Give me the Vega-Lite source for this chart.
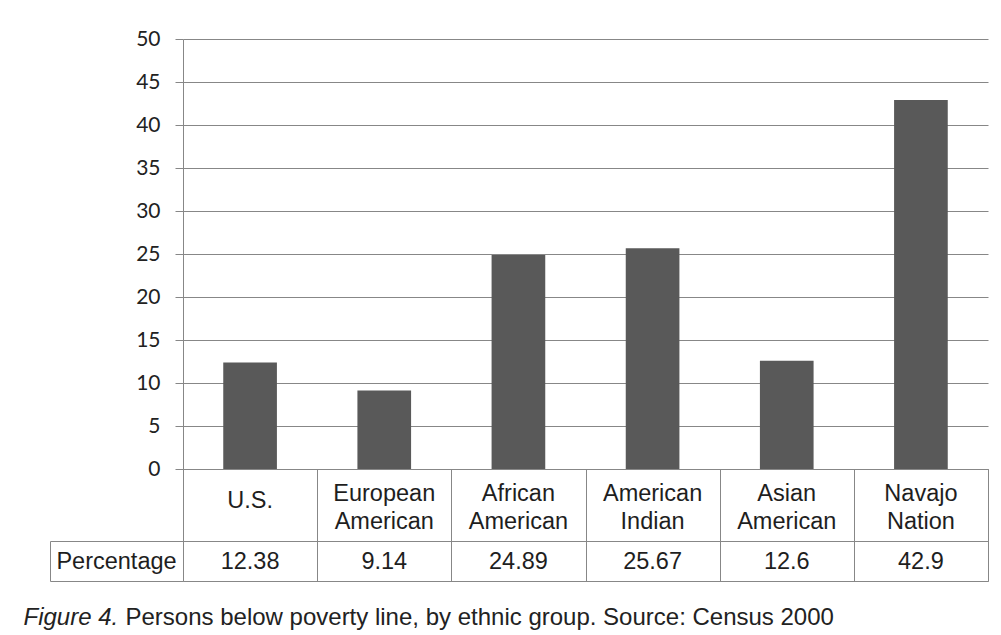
{
  "$schema": "https://vega.github.io/schema/vega-lite/v6.json",
  "background": "white",
  "padding": {"left": 22, "top": 28, "right": 5, "bottom": 0},
  "autosize": {"type": "pad"},
  "spacing": 0,
  "bounds": "flush",
  "config": {"view": {"stroke": null}, "font": "Liberation Sans"},
  "data": {
    "values": [
      {"group": "U.S.", "pct": 12.38, "row": "Percentage"},
      {"group": "European American", "pct": 9.14, "row": "Percentage"},
      {"group": "African American", "pct": 24.89, "row": "Percentage"},
      {"group": "American Indian", "pct": 25.67, "row": "Percentage"},
      {"group": "Asian American", "pct": 12.6, "row": "Percentage"},
      {"group": "Navajo Nation", "pct": 42.9, "row": "Percentage"}
    ]
  },
  "resolve": {"scale": {"x": "independent", "y": "independent"}},
  "vconcat": [
    {
      "width": 805,
      "height": 430,
      "mark": {"type": "bar", "color": "#595959"},
      "encoding": {
        "x": {"field": "group", "type": "nominal", "sort": null, "scale": {"type": "band", "paddingInner": 0.6, "paddingOuter": 0.3}, "axis": null},
        "y": {
          "field": "pct", "type": "quantitative",
          "scale": {"domain": [0, 50], "nice": false},
          "axis": {
            "values": [0, 5, 10, 15, 20, 25, 30, 35, 40, 45, 50],
            "title": null, "grid": true, "gridColor": "#878787", "gridOpacity": 1,
            "domainColor": "#878787", "tickColor": "#878787", "tickSize": 8,
            "labelPadding": 15, "labelFont": "Lato", "labelFontSize": 21, "labelColor": "#222222", "labelFlush": false
          }
        }
      }
    },
    {
      "width": 805,
      "height": 72,
      "view": {"stroke": "#878787", "strokeWidth": 1},
      "encoding": {
        "x": {
          "field": "group", "type": "nominal", "sort": null,
          "scale": {"type": "band", "paddingInner": 0, "paddingOuter": 0},
          "axis": {"title": null, "labels": false, "ticks": false, "domain": false, "grid": true, "tickBand": "extent", "gridColor": "#878787", "gridOpacity": 1}
        },
        "text": {"field": "group", "type": "nominal"}
      },
      "layer": [
        {
          "transform": [{"filter": "datum.group === 'U.S.'"}],
          "mark": {"type": "text", "fontSize": 23.5, "font": "Liberation Sans", "color": "#1e1e1e", "dy": -4}
        },
        {
          "transform": [{"filter": "datum.group !== 'U.S.'"}],
          "mark": {"type": "text", "lineBreak": " ", "lineHeight": 28.5, "fontSize": 23.5, "font": "Liberation Sans", "color": "#1e1e1e", "dy": -11.5}
        }
      ]
    },
    {
      "width": 805,
      "height": 40,
      "view": {"stroke": "#878787", "strokeWidth": 1},
      "mark": {"type": "text", "fontSize": 23.5, "font": "Liberation Sans", "color": "#1e1e1e", "dy": 1}
      ,
      "encoding": {
        "x": {
          "field": "group", "type": "nominal", "sort": null,
          "scale": {"type": "band", "paddingInner": 0, "paddingOuter": 0},
          "axis": {
            "labels": false, "ticks": false, "domain": false, "grid": true, "tickBand": "extent", "gridColor": "#878787", "gridOpacity": 1,
            "title": "Persons below poverty line, by ethnic group. Source: Census 2000",
            "titleX": -58, "titleY": 43, "titleAlign": "left", "titleAnchor": "start", "titleBaseline": "alphabetic",
            "titleFont": "Liberation Sans", "titleFontSize": 24, "titleFontWeight": "normal", "titleColor": "#222222"
          }
        },
        "y": {
          "field": "row", "type": "nominal",
          "scale": {"type": "band", "paddingInner": 0, "paddingOuter": 0},
          "axis": {
            "title": "Figure 4.", "titleAngle": 0, "titleX": -27, "titleY": 83, "titleAlign": "left", "titleBaseline": "alphabetic",
            "titleFontStyle": "italic", "titleFont": "Liberation Sans", "titleFontSize": 24, "titleFontWeight": "normal", "titleColor": "#222222",
            "offset": 133, "tickBand": "extent", "tickSize": -133, "tickColor": "#878787", "domainColor": "#878787",
            "labelPadding": 67, "labelAlign": "center", "labelBaseline": "middle",
            "labelFont": "Liberation Sans", "labelFontSize": 23.5, "labelColor": "#1e1e1e", "grid": false
          }
        },
        "text": {"field": "pct", "type": "quantitative"}
      }
    }
  ]
}
